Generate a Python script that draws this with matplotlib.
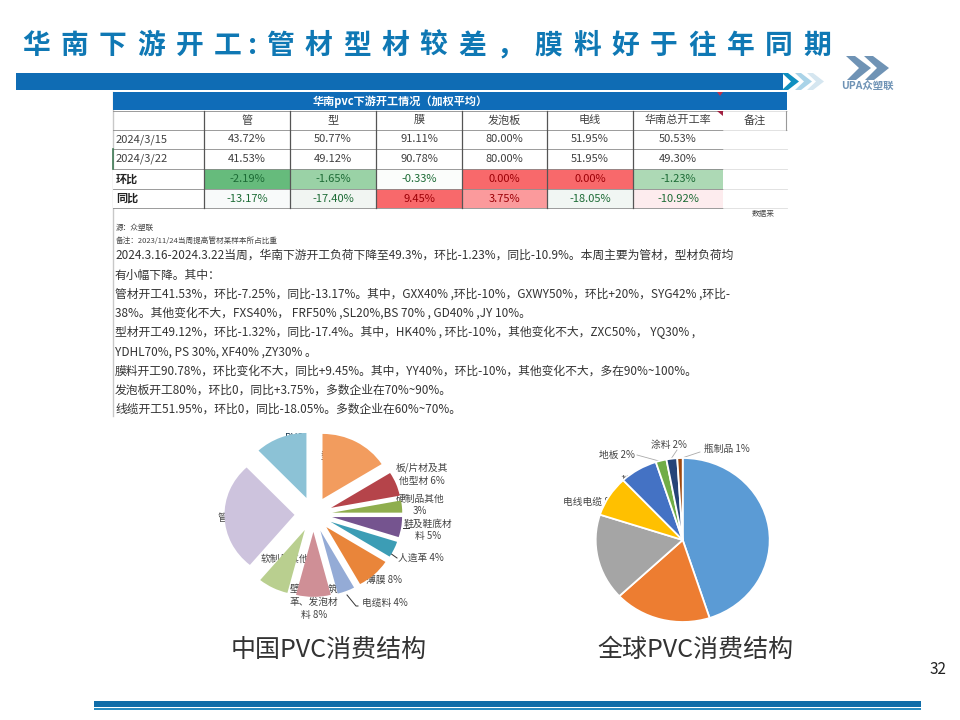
import matplotlib
matplotlib.use('Agg')
import matplotlib.pyplot as plt
from matplotlib.patches import Rectangle, Polygon

plt.rcParams['font.family'] = ['Noto Sans CJK SC', 'DejaVu Sans']

# 表格数据
titulo = '华南下游开工:管材型材较差，膜料好于往年同期'
tabela_titulo = '华南pvc下游开工情况（加权平均）'
colunas = ['', '管', '型', '膜', '发泡板', '电线', '华南总开工率', '备注']
linha_0315 = ['2024/3/15', '43.72%', '50.77%', '91.11%', '80.00%', '51.95%', '50.53%', '']
linha_0322 = ['2024/3/22', '41.53%', '49.12%', '90.78%', '80.00%', '51.95%', '49.30%', '']
linha_hb = ['环比', '-2.19%', '-1.65%', '-0.33%', '0.00%', '0.00%', '-1.23%', '']
linha_tb = ['同比', '-13.17%', '-17.40%', '9.45%', '3.75%', '-18.05%', '-10.92%', '']
cores_hb = ['#ffffff', '#66bb7c', '#9ad2a6', '#fbfdfb', '#f8696b', '#f8696b', '#add9b5', '#ffffff']
cores_tb = ['#ffffff', '#f8fafa', '#f1f5f2', '#f8696b', '#fb9a9c', '#f1f6f3', '#fdecee', '#ffffff']

texto = [
    '2024.3.16-2024.3.22当周，华南下游开工负荷下降至49.3%，环比-1.23%，同比-10.9%。本周主要为管材，型材负荷均',
    '有小幅下降。其中：',
    '管材开工41.53%，环比-7.25%，同比-13.17%。其中，GXX40% ,环比-10%，GXWY50%，环比+20%，SYG42% ,环比-',
    '38%。其他变化不大，FXS40%， FRF50% ,SL20%,BS 70% , GD40% ,JY 10%。',
    '型材开工49.12%，环比-1.32%，同比-17.4%。其中，HK40% , 环比-10%，其他变化不大，ZXC50%， YQ30% ,',
    'YDHL70%, PS 30%, XF40% ,ZY30% 。',
    '膜料开工90.78%，环比变化不大，同比+9.45%。其中，YY40%，环比-10%，其他变化不大，多在90%~100%。',
    '发泡板开工80%，环比0，同比+3.75%，多数企业在70%~90%。',
    '线缆开工51.95%，环比0，同比-18.05%。多数企业在60%~70%。',
]

# 饼图数据
china_nomes = ['型材、门窗', '板/片材及其他型材', '硬制品其他', '鞋及鞋底材料', '人造革', '薄膜',
               '电缆料', '壁纸、建筑革、发泡材料', '软制品其他', '管材、管件', 'PVC地板']
china_valores = [16, 6, 3, 5, 4, 8, 4, 8, 7, 27, 12]
china_cores = ['#f29c5e', '#b5444a', '#8fae4e', '#75548f', '#3c9db5', '#e9853a',
               '#94abd6', '#cf8f96', '#b9cf8f', '#cdc3dd', '#8cc2d6']
global_nomes = ['管材', '薄膜', '型材', '电线电缆', '其他', '地板', '涂料', '瓶制品']
global_valores = [45, 18, 17, 8, 7, 2, 2, 1]
global_cores = ['#5b9bd5', '#ed7d31', '#a5a5a5', '#ffc000', '#4472c4', '#70ad47', '#264478', '#9e480e']

fig = plt.figure(figsize=(9.6, 7.2), dpi=100)
ax = fig.add_axes([0, 0, 1, 1], zorder=1)
ax.set_xlim(0, 960)
ax.set_ylim(720, 0)
ax.axis('off')


def ret(x0, y0, x1, y1, cor, z=1):
    ax.add_patch(Rectangle((x0, y0), x1 - x0, y1 - y0, fc=cor, ec='none', zorder=z))


def eixo_pie(cx, cy, rx, ry):
    # eixo em pixels, raio 1 do pie = rx, ry (a imagem original esta esticada)
    a = fig.add_axes([(cx - 1.5 * rx) / 960, 1 - (cy + 1.5 * ry) / 720, 3 * rx / 960, 3 * ry / 720], zorder=2)
    return a


# titulo com espacamento entre letras
x = 22
for c in titulo:
    ax.text(x, 46, c, fontsize=20, fontweight='bold', color='#0f78b4', va='center', ha='left')
    if c == ':':
        x += 18
    elif c == '工':
        x += 34
    else:
        x += 38.4

# barra azul e setas
ret(16, 73, 783, 90, '#0f6cb4')
for x0, cor in [(782, '#0f8fc0'), (795, '#a9d3e8'), (807, '#d5e6f0')]:
    ax.add_patch(Polygon([(x0, 73), (x0 + 6, 73), (x0 + 17, 81.5), (x0 + 6, 90), (x0, 90), (x0 + 9, 81.5)],
                         fc=cor, ec='none', zorder=2))

# logo
for x0, cor in [(846, '#6f93b5'), (864, '#6f93b5')]:
    ax.add_patch(Polygon([(x0, 56), (x0 + 9, 56), (x0 + 25, 68), (x0 + 10, 80), (x0 + 1, 80), (x0 + 13, 68)],
                         fc=cor, ec='none', zorder=2))
ax.text(867, 87, 'UPA众塑联', fontsize=7.5, fontweight='bold', color='#6f93b5', ha='center', va='center')

# tabela
xs = [113, 204, 290, 376, 462, 547, 633, 723, 786]
ys = [110.5, 130, 149, 169, 189, 208]
ax.plot([113, 113], [92, 416], color='#c8c8c8', lw=1, zorder=1)
ret(113, 92, 787, 110, '#0f6cb8')
ax.text(400, 101, tabela_titulo, fontsize=8, fontweight='bold', color='white', ha='center', va='center', zorder=3)

linhas = [colunas, linha_0315, linha_0322, linha_hb, linha_tb]
for i, linha in enumerate(linhas):
    for j, v in enumerate(linha):
        if i == 3:
            ret(xs[j], ys[i], xs[j + 1], ys[i + 1], cores_hb[j])
        if i == 4:
            ret(xs[j], ys[i], xs[j + 1], ys[i + 1], cores_tb[j])
        cx = (xs[j] + xs[j + 1]) / 2
        cy = (ys[i] + ys[i + 1]) / 2
        cor = '#404040'
        if i >= 3 and j > 0:
            cor = '#9c0006' if not v.startswith('-') else '#1c6b35'
        if i >= 3 and j == 0:
            ax.text(116, cy, v, fontsize=8, fontweight='bold', color='#222222', va='center', zorder=3)
        elif j == 0:
            ax.text(116, cy, v, fontsize=8, color='#404040', va='center', zorder=3)
        else:
            ax.text(cx, cy, v, fontsize=8, color=cor, ha='center', va='center', zorder=3)

for y in ys:
    ax.plot([113, 723], [y, y], color='#8a8a8a', lw=0.6, zorder=2)
    ax.plot([723, 787], [y, y], color='#dddddd', lw=0.6, zorder=2)
for x0 in xs[1:7]:
    ax.plot([x0, x0], [ys[0], ys[-1]], color='#555555', lw=0.9, zorder=2)
ax.plot([786, 786], [ys[0], ys[1]], color='#999999', lw=0.8, zorder=2)
ax.plot([113, 113], [149, 169], color='#3f7a55', lw=1.2, zorder=2)
ax.add_patch(Polygon([(717, 92), (723, 92), (720, 96)], fc='#c0304a', ec='none', zorder=3))
ax.add_patch(Polygon([(717, 110.5), (723, 110.5), (723, 116)], fc='#a02040', ec='none', zorder=3))

ax.text(752, 214, '数据来', fontsize=5.5, color='#444444', ha='left', va='center')
ax.text(116, 228, '源：众塑联', fontsize=5.5, color='#444444', va='center')
ax.text(116, 242, '备注：2023/11/24当周提高管材某样本所占比重', fontsize=5.5, color='#444444', va='center')

ys_texto = [255, 275, 294, 313, 332, 352, 371, 390, 409]
for y, t in zip(ys_texto, texto):
    ax.text(115, y, t, fontsize=8.5, color='#333333', va='center', ha='left')

# pie da China
a1 = eixo_pie(313.4, 514.3, 70, 65)
a1.pie(china_valores, colors=china_cores, startangle=90, counterclock=False, explode=[0.27] * len(china_valores),
       radius=1)
a1.set_aspect('auto')
a1.set_xlim(-1.5, 1.5)
a1.set_ylim(-1.5, 1.5)

# rotulos do pie da China (posicao em pixels)
rotulos_china = [
    (345, 462, '型材、门窗\n16%', '#5a4030'), (294, 451, 'PVC\n地板\n12%', '#1f3f55'),
    (422, 474, '板/片材及其\n他型材 6%', '#444444'), (420, 505, '硬制品其他\n3%', '#444444'),
    (428, 530, '鞋及鞋底材\n料 5%', '#444444'), (421, 558, '人造革 4%', '#444444'),
    (384, 580, '薄膜 8%', '#444444'), (385, 603, '电缆料 4%', '#444444'),
    (314, 602, '壁纸、建筑\n革、发泡材\n料 8%', '#444444'), (285, 565, '软制品其他\n7%', '#444444'),
    (242, 524, '管材、管件\n27%', '#444444'),
]
for x0, y0, t, cor in rotulos_china:
    ax.text(x0, y0, t, fontsize=7, color=cor, ha='center', va='center', linespacing=1.35, zorder=4)
ax.plot([403, 409], [528, 528], color='#333333', lw=0.7, zorder=3)
ax.plot([347, 356, 358], [595, 606, 606], color='#333333', lw=0.7, zorder=3)
ax.plot([390, 397], [553, 558], color='#333333', lw=0.7, zorder=3)

# pie global
a2 = eixo_pie(682.7, 540, 87, 82)
a2.pie(global_valores, colors=global_cores, startangle=90, counterclock=False,
       wedgeprops={'edgecolor': 'white', 'linewidth': 1.3})
a2.set_aspect('auto')
a2.set_xlim(-1.5, 1.5)
a2.set_ylim(-1.5, 1.5)

rotulos_global = [
    (731, 530, '管材 45%'), (671, 594, '薄膜 18%'), (628, 549, '型材 17%'), (591, 502, '电线电缆 8%'),
    (639, 480, '其他 7%'), (617, 455, '地板 2%'), (669, 445, '涂料 2%'), (727, 449, '瓶制品 1%'),
]
for x0, y0, t in rotulos_global:
    ax.text(x0, y0, t, fontsize=7, color='#444444', ha='center', va='center', zorder=4)
ax.plot([637, 659], [455, 461], color='#aaaaaa', lw=0.6, zorder=3)
ax.plot([677, 671], [450, 459], color='#aaaaaa', lw=0.6, zorder=3)
ax.plot([700, 682], [452, 458], color='#aaaaaa', lw=0.6, zorder=3)

# titulos dos pies
ax.text(329, 650, '中国PVC消费结构', fontsize=18, color='#333333', ha='center', va='center')
ax.text(695, 650, '全球PVC消费结构', fontsize=18, color='#333333', ha='center', va='center')
ax.text(938, 669, '32', fontsize=11, color='#222222', ha='center', va='center')

# linha de baixo
ret(94, 701, 921, 707, '#0f6ca8')
ret(94, 708, 921, 710, '#2a8cc0')

fig.savefig('out.png', dpi=100)
